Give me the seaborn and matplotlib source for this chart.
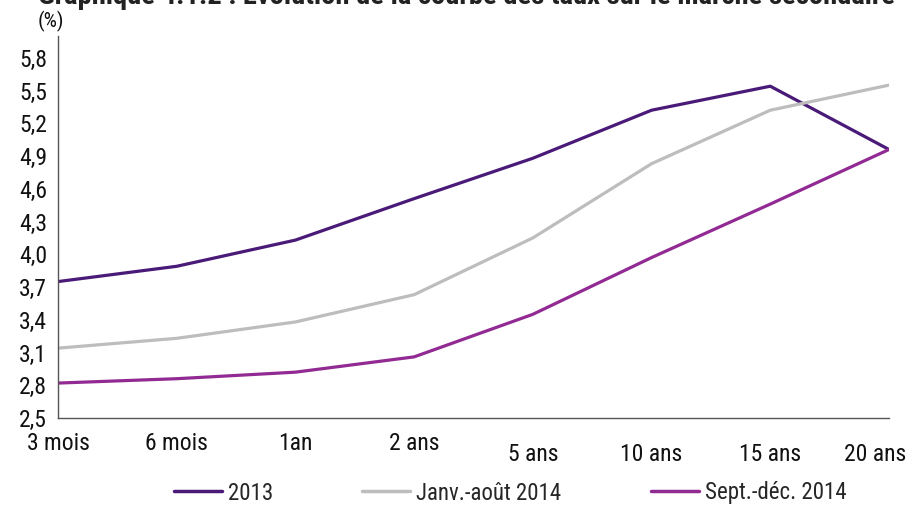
import numpy as np
import pandas as pd
import seaborn as sns
import matplotlib.pyplot as plt
from matplotlib.transforms import ScaledTranslation

maturities = ['3 mois', '6 mois', '1an', '2 ans', '5 ans', '10 ans', '15 ans', '20 ans']
taux_2013 = [3.75, 3.89, 4.13, 4.51, 4.88, 5.32, 5.54, 4.96]
taux_janv_aout_2014 = [3.14, 3.23, 3.38, 3.63, 4.15, 4.83, 5.32, 5.55]
taux_sept_dec_2014 = [2.82, 2.86, 2.92, 3.06, 3.45, 3.97, 4.46, 4.96]
series = ['2013', 'Janv.-août 2014', 'Sept.-déc. 2014']
colors = ['#4a1a78', '#bdbdbd', '#922a93']

df = pd.DataFrame({
    'maturite': maturities * 3,
    'taux': taux_2013 + taux_janv_aout_2014 + taux_sept_dec_2014,
    'periode': [s for s in series for _ in maturities],
})

sns.set_theme(style='white')
plt.rcParams['font.family'] = ['Roboto Condensed', 'Liberation Sans Narrow', 'DejaVu Sans']
plt.rcParams['font.stretch'] = 'condensed'

fig = plt.figure(figsize=(9.08, 5.07), dpi=100)
ax = fig.add_axes([58 / 908, 1 - 418 / 507, (889 - 58) / 908, (418 - 36) / 507])

sns.lineplot(data=df, x='maturite', y='taux', hue='periode', palette=colors,
             linewidth=2.3, sort=False, ax=ax, legend=False)

ax.set_xlim(0, len(maturities) - 1)
ax.set_ylim(2.5, 6.0)
ax.set_yticks(np.arange(2.5, 5.81, 0.3))
ax.set_yticklabels([f'{v:.1f}'.replace('.', ',') for v in np.arange(2.5, 5.81, 0.3)])
ax.set_xticks(range(len(maturities)))
ax.set_xticklabels(maturities)
ax.set_xlabel('')
ax.set_ylabel('')

for side in ['top', 'right']:
    ax.spines[side].set_visible(False)
for side in ['left', 'bottom']:
    ax.spines[side].set_color('#555555')
    ax.spines[side].set_linewidth(1)
ax.tick_params(axis='both', which='both', direction='out', length=5, width=1,
               color='#555555', labelsize=17, labelcolor='#111111')
ax.tick_params(axis='x', pad=5)
ax.tick_params(axis='y', pad=3)

# last labels sit a bit lower, like the original
xlabs = ax.get_xticklabels()
for lab in xlabs[4:]:
    lab.set_transform(lab.get_transform() + ScaledTranslation(0, -11 / 100, fig.dpi_scale_trans))
xlabs[-1].set_transform(xlabs[-1].get_transform() + ScaledTranslation(-14 / 100, 0, fig.dpi_scale_trans))

fig.text(38 / 908, 1 - 4 / 507, 'Graphique 4.1.2 : Evolution de la courbe des taux sur le marché secondaire',
         fontsize=20.5, fontweight='bold', color='#222222', va='baseline', ha='left')
fig.text(38 / 908, 1 - 21 / 507, '(%)', fontsize=15, color='#111111', va='center', ha='left')

handles = [plt.Line2D([], [], color=c, lw=2.5) for c in colors]
fig.legend(handles, series, loc='center', bbox_to_anchor=(510 / 908, 1 - 493 / 507), ncol=3,
           frameon=False, fontsize=16.5, handlelength=2.1, handletextpad=0.25,
           columnspacing=3.9)

fig.savefig('out.png', dpi=100)
